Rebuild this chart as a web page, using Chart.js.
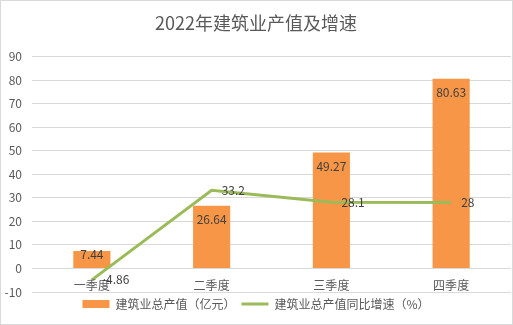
<!DOCTYPE html>
<html>
<head>
<meta charset="utf-8">
<script src="https://cdn.jsdelivr.net/npm/chart.js@4"></script>
<style>
  html, body { margin: 0; padding: 0; background: #fff; }
  #wrap { width: 513px; height: 325px; box-sizing: border-box; border: 1px solid #d9d9d9; }
</style>
</head>
<body>
<div id="wrap"><canvas id="chart"></canvas></div>
<script>
// Data
const quarters = ['一季度', '二季度', '三季度', '四季度'];
const output = [7.44, 26.64, 49.27, 80.63];   // 建筑业总产值（亿元）
const growth = [-4.86, 33.2, 28.1, 28];       // 同比增速（%）
const yTicks = [-10, 90, 10];                 // min, max, step

const FONT = '"Noto Sans CJK SC", "Noto Sans", sans-serif';

// Value labels on bars and line, plus category labels under the 0 line
const labelPlugin = {
  id: 'labels',
  afterDatasetsDraw(chart) {
    const ctx = chart.ctx;
    const x = chart.scales.x, y = chart.scales.y;
    ctx.save();
    ctx.font = '12px ' + FONT;
    ctx.textBaseline = 'middle';

    // bar labels, inside end
    ctx.fillStyle = '#404040';
    ctx.textAlign = 'center';
    chart.getDatasetMeta(0).data.forEach((bar, i) => {
      const h = bar.base - bar.y;
      const ly = h > 28 ? bar.y + 14 : bar.y + 3;
      ctx.fillText(String(output[i]), bar.x, ly);
    });

    // category labels
    ctx.fillStyle = '#595959';
    const zero = y.getPixelForValue(0);
    quarters.forEach((q, i) => {
      ctx.fillText(q, x.getPixelForValue(i), zero + 17);
    });

    // line labels, right of the point
    ctx.fillStyle = '#404040';
    ctx.textAlign = 'left';
    chart.getDatasetMeta(1).data.forEach((pt, i) => {
      ctx.fillText(String(growth[i]), pt.x + 10, pt.y);
    });
    ctx.restore();
  }
};

new Chart(document.getElementById('chart'), {
  data: {
    labels: quarters,
    datasets: [{
      type: 'bar',
      label: '建筑业总产值（亿元）',
      data: output,
      backgroundColor: '#f79646',
      borderWidth: 0,
      categoryPercentage: 1,
      barPercentage: 0.31,
      pointStyle: 'rect',
      order: 1
    }, {
      type: 'line',
      label: '建筑业总产值同比增速（%）',
      data: growth,
      borderColor: '#9bbb59',
      backgroundColor: '#9bbb59',
      borderWidth: 3,
      tension: 0,
      pointRadius: 0,
      pointStyle: 'line',
      fill: false,
      order: 0
    }]
  },
  options: {
    responsive: true,
    maintainAspectRatio: false,
    animation: false,
    layout: { padding: { top: 0, right: 1, bottom: 4, left: 0 } },
    scales: {
      x: { display: false, offset: true },
      y: {
        min: yTicks[0],
        max: yTicks[1],
        ticks: {
          stepSize: yTicks[2],
          padding: 10,
          color: '#595959',
          font: { family: FONT, size: 12 }
        },
        grid: { color: '#d9d9d9', drawTicks: false },
        border: { display: false },
        afterFit(scale) { scale.width = 31; }
      }
    },
    plugins: {
      title: {
        display: true,
        text: '2022年建筑业产值及增速',
        color: '#595959',
        font: { family: FONT, size: 18, weight: 'normal' },
        padding: { top: 11, bottom: 23 }
      },
      legend: {
        position: 'bottom',
        labels: {
          usePointStyle: true,
          pointStyleWidth: 27,
          boxWidth: 27,
          boxHeight: 8,
          padding: 6,
          color: '#595959',
          font: { family: FONT, size: 12 },
          sort: (a, b) => a.datasetIndex - b.datasetIndex
        }
      },
      tooltip: { enabled: false }
    }
  },
  plugins: [labelPlugin]
});
</script>
</body>
</html>
